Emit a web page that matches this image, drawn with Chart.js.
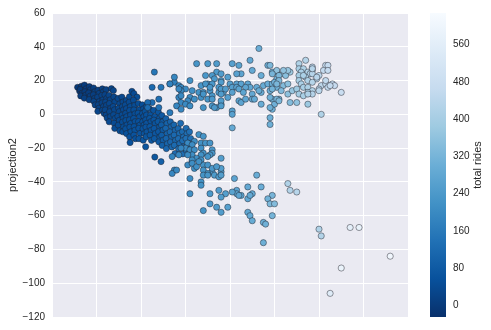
<!DOCTYPE html>
<html>
<head>
<meta charset="utf-8">
<title>projection scatter</title>
<script src="https://cdn.jsdelivr.net/npm/chart.js@4"></script>
<style>
  html, body { margin: 0; padding: 0; background: #ffffff; }
</style>
</head>
<body>
<canvas id="scatterChart" width="491" height="330"></canvas>
<script>
// [projection1, projection2, total rides]
const mainCluster = [
  [-68.5,16,2],[-67.6,13.8,5],
  [-66.8,16.6,4],[-67.3,14.8,2],[-66.4,12.6,6],[-67.1,10.9,9],
  [-65.4,17.3,5],[-64.6,15.2,7],[-65.2,13.4,3],[-64.8,11.4,10],[-65.5,9.6,12],
  [-63.2,16.4,6],[-62.7,14.6,11],[-63.5,12.7,8],[-62.8,10.8,13],[-63.3,8.7,16],
  [-61.3,15.6,12],[-60.7,13.4,14],[-61.4,11.6,11],[-60.8,9.5,17],[-61.2,7.7,19],[-60.6,5.6,22],
  [-59.3,14.3,15],[-58.8,12.4,18],[-59.5,10.2,16],[-58.7,7.6,20],[-59.2,5.7,23],[-58.9,3.6,25],[-59.4,1.8,28],
  [-57.4,15.1,17],[-56.9,13.4,19],[-57.6,11.2,22],[-57.1,8.6,24],[-57.5,6.8,21],[-56.8,4.7,26],[-57.3,2.4,29],[-56.6,0.6,31],
  [-55.7,14.6,20],[-56.2,11.6,23],[-55.4,9.4,25],[-55.9,7.3,28],[-55.5,5.4,24],[-56.1,2.6,30],[-55.6,-0.4,32],[-55.2,-2.2,35],
  [-54.4,11.3,26],[-53.8,8.6,29],[-54.2,6.4,31],[-53.6,3.7,28],[-54.1,1.5,34],[-53.7,-1.3,36],[-54.3,-4.4,38],
  [-53.3,15.2,29],[-52.4,14.1,30],
  [-52.2,10.3,30],[-51.7,7.4,32],[-52.5,4.6,35],[-51.9,2.7,31],[-52.3,-0.3,37],[-51.6,-2.4,40],[-52.1,-5.2,42],[-51.8,-8.3,44],
  [-50.3,9.4,32],[-49.6,6.2,35],[-50.1,3.6,37],[-49.8,1.6,34],[-50.4,-1.2,40],[-49.7,-3.5,42],[-50.2,-6.4,44],[-49.5,-9.7,48],
  [-48.6,10.2,35],[-48.1,7.3,37],[-48.4,4.5,40],[-47.9,2.7,36],[-48.5,-0.4,42],[-48.0,-2.3,44],[-48.3,-4.6,47],[-47.8,-7.4,49],[-48.2,-10.3,53],
  [-46.6,8.3,38],[-47.0,5.6,41],[-46.5,3.4,43],[-46.9,0.6,40],[-46.4,-1.4,46],[-46.8,-3.7,48],[-46.3,-6.3,50],[-46.9,-8.6,53],[-46.5,-11.4,56],
  [-45.2,10.4,44],[-44.1,13.6,42],[-43.2,12.3,43],[-41.8,10.2,48],
  [-45.3,7.2,42],[-44.8,4.6,44],[-45.1,2.3,47],[-44.7,-0.4,43],[-45.2,-3.3,49],[-44.6,-5.4,52],[-45.0,-7.6,54],[-44.5,-10.3,58],[-45.1,-13.4,60],[-44.9,-16.7,59],
  [-43.4,8.4,43],[-42.8,5.3,47],[-43.2,2.6,49],[-42.7,0.3,46],[-43.3,-2.4,52],[-42.6,-4.3,54],[-43.1,-7.3,56],[-42.7,-9.4,59],[-43.2,-12.3,62],[-42.5,-14.4,55],
  [-41.2,6.4,48],[-40.7,2.6,50],[-41.3,0.7,53],[-40.6,-1.4,49],[-41.1,-4.3,55],[-40.5,-6.4,58],[-41.0,-8.3,60],[-40.4,-11.3,62],[-40.9,-14.4,66],
  [-39.4,5.6,52],[-38.8,3.3,54],[-39.3,0.6,56],[-38.7,-1.3,53],[-39.2,-4.4,59],[-38.6,-6.3,61],[-39.1,-8.5,64],[-38.5,-11.4,66],[-39.0,-15.3,70],
  [-37.6,4.6,55],[-38.1,1.7,58],[-37.5,-0.4,60],[-37.9,-3.3,56],[-37.4,-5.3,62],[-37.8,-7.6,65],[-37.3,-10.4,67],[-37.7,-13.3,71],[-37.9,-19.2,67],
  [-36.2,3.3,59],[-35.6,-0.3,61],[-36.1,-2.4,64],[-35.5,-4.3,60],[-36.0,-7.3,66],[-35.4,-9.4,68],[-35.9,-12.3,71],[-35.3,-15.4,74],
  [-34.3,2.4,62],[-33.7,-1.3,65],[-34.2,-3.4,67],[-33.6,-5.3,64],[-34.1,-8.4,70],[-33.5,-11.3,72],[-34.0,-14.4,76],[-33.8,-25.3,71],
  [-32.2,1.3,66],[-31.7,-2.4,68],[-32.3,-4.3,71],[-31.6,-7.4,67],[-32.1,-10.3,73],[-31.5,-13.4,76],[-32.0,-16.3,79],
  [-30.6,-0.7,78],[-30.2,-4.4,82],[-30.8,-6.3,84],[-30.1,-9.3,80],[-30.7,-12.4,86],[-30.0,-15.3,90],[-30.5,-18.4,94],[-31.0,-28.0,96],
  [-28.8,-2.6,98],[-28.3,-5.4,102],[-28.9,-8.3,104],[-28.2,-11.4,100],[-28.7,-14.3,106],[-28.1,-17.4,110],[-28.6,-20.3,114],
  [-26.8,-4.4,104],[-26.3,-7.3,108],[-26.9,-10.4,112],[-26.2,-13.3,106],[-26.7,-16.4,114],[-26.1,-19.3,118],
  [-25.2,-6.3,110],[-24.6,-9.4,114],[-25.1,-12.3,118],[-24.5,-15.4,112],[-25.0,-18.3,122],[-24.7,-23.2,124],
  [-23.3,-8.4,116],[-22.7,-11.3,120],[-23.2,-14.4,124],[-22.6,-17.3,118],[-23.1,-20.4,128],
  [-22.2,-5.3,124],
  [-21.4,-10.3,122],[-20.9,-13.4,126],[-21.3,-15.6,130],[-20.8,-19.3,134],[-21.2,-23.4,134],
  [-19.7,-8.3,128],[-19.3,-11.4,132],[-19.8,-14.3,136],[-19.2,-18.4,140],[-19.7,-21.3,144],
  [-18.9,-20.2,140],
  [-18.2,-10.4,134],[-17.7,-14.3,138],[-18.1,-17.4,144],[-17.6,-21.3,148],
  [-17.1,-28.3,150]
];

const upperBranch = [
  [-35,16,120],[-31,16,150],[-27,18,170],[-25,19,175],[-34,25,150],
  [-15,30,230],[-10,30,240],[-6,30,245],[-6,25,245],[-11,23,235],[-8,23,240],[-4,24,250],
  [-18,20,220],[-13,17,230],[-10,18,235],[-7,21,240],[-4,20,248],[-8,18,238],[-4,19,250],
  [-25,22,190],[-27,18,180],[-23,17,195],[-22,16,200],[-20,15,205],[-22,14,200],[-23,15,195],
  [-17,14,215],[-14,13,222],[-12,13,228],[-9,14,235],[-5,13,245],[-3,13,252],[-5,16,245],[-4,15,250],
  [-23,10,190],[-22,11,195],[-18,10,205],[-16,9,212],[-13,10,218],[-10,9,228],[-19,8,200],
  [-22,7,195],[-20,6,200],[-24,5,190],[-22,3,195],[-18,5,205],[-12,4,222],[-8,5,232],[-6,4,238],[-4,6,245],
  [-32,9,130],[-35,7,125],[-37,7,120],[-37,4,122],[-32,4,135],[-27,1,160],
  [13,39,300],[1,30,262],[4,29,268],[9,32,285],[17,29,300],[21,25,310],[5,24,270],[3,24,265],
  [10,26,285],[14,23,295],[19,25,305],[-1,22,255],[21,21,310],
  [-11,18,232],[0,18,258],[3,18,265],[5,18,270],[8,18,278],[9,16,282],[12,16,290],[15,17,295],
  [17,18,300],[19,18,305],[20,19,308],
  [-9,16,235],[-2,15,252],[1,16,262],[3,16,265],[4,15,268],[7,16,275],[1,13,262],[6,13,272],
  [10,12,285],[14,13,295],[18,14,302],[21,16,310],
  [-12,12,225],[-8,11,235],[-4,12,248],[-1,10,255],[-4,8,248],[-8,9,238],[4,8,268],[5,7,270],
  [7,9,275],[10,9,285],[14,6,295],[19,9,305],
  [-7,4,238],[-4,5,245],[1,2,262],[1,0,262],[19,3,305],[20,6,308],
  [11,9,288],[18,4,305],[18,-2,305],[18,-6,305],[13,14,292],
  [22,9,320],[27,7,340],[30,7,360],[35,6,380],[41,0,420]
];

const upperRight = [
  [34,32,430],[31,30,420],[37,28,440],[43,29,460],[44,29,465],[42,26,460],[44,26,465],
  [21,26,360],[26,25,380],[24,24,375],[27,25,385],[31,27,405],[33,27,415],[32,25,410],[35,25,420],
  [37,26,430],[36,24,425],[37,24,432],
  [18,29,330],[19,24,320],[22,23,330],[25,23,350],[31,23,400],[34,22,415],[40,23,445],[39,21,440],
  [35,20,420],[31,20,405],[37,19,430],[32,18,410],[41,17,450],[43,18,455],[46,18,462],[47,17,465],
  [50,13,475],[44,16,458],[40,15,445],
  [22,20,330],[21,18,325],[24,17,340],[26,18,355],[19,15,315],[23,14,335],[26,12,355],[28,14,370],
  [30,15,385],[33,16,405],[35,16,415],[37,14,425],[35,13,415],[31,12,395],[37,12,428],[40,14,440],
  [33,11,405],[35,12,418],
  [21,9,320],[22,8,325],[18,10,305],
  [37,27,435],[26,26,370],[24,26,360],[33,23,410],[39,22,440],[43,20,455],[45,17,460]
];

const lowerBranch = [
  [1,-8,290],[-14,-12,220],[-12,-13,225],[-16,-16,210],[-13,-17,220],[-11,-17,225],[-9,-17,230],
  [-19,-17,200],[-17,-18,205],[-20,-20,195],[-18,-21,205],[-16,-21,210],[-13,-20,218],[-12,-23,222],
  [-8,-21,235],[-8,-23,235],[-9,-24,232],[-10,-25,228],[-13,-24,220],[-17,-24,210],[-19,-24,205],
  [-23,-24,195],[-22,-20,190],[-26,-25,185],[-15,-26,215],[-13,-27,220],[-17,-27,210],[-19,-30,205],
  [-16,-32,215],[-12,-30,225],[-4,-26,255],[-10,-30,230],[-12,-33,225],[-8,-34,240],[-10,-35,232],
  [-7,-36,242],[-4,-34,250],[-4,-32,252],[-5,-37,248],[-25,-33,195],[-26,-35,190],[-18,-38,210],
  [-13,-40,225],[-13,-42,222],[2,-38,270],[-5,-45,250],[-9,-47,240],[-18,-47,215],[-2,-47,258],
  [3,-45,272],[3,-47,272],[5,-48,278],[8,-43,285],
  [-24,-33,195],[-17,-29,210],[-15,-31,215],[-14,-28,218],[-8,-32,235],[-6,-31,240],[-4,-36,252],
  [-12,-36,225],[-10,-36,232],
  [-12,-57,230],[-9,-53,238],[-6,-55,245],[-4,-58,252],[-1,-55,260],[8,-50,285],[8,-58,282],
  [12,-36,295],[14,-43,300],[1,-46,268],[4,-48,275],[10,-47,290],[9,-48,288],[-4,-49,252],
  [19,-48,320],[17,-50,312],[18,-53,330],[20,-53,340],[9,-60,290],[10,-63,292],[15,-64,305],
  [16,-65,308],[19,-60,318],[15,-76,305],
  [26,-41,420],[27,-45,425],[30,-46,435],[40,-68,420],[41,-72,425]
];

const farPoints = [
  [54,-67,565],[58,-67,580],[50,-91,585],[45,-106,545],[72,-84,605]
];

const yTicks = [-120, -100, -80, -60, -40, -20, 0, 20, 40, 60];
const colorbarTicks = [0, 80, 160, 240, 320, 400, 480, 560];
const ridesMin = -25;
const ridesMax = 628;

// matplotlib Blues_r
const bluesR = ["#08306b", "#08519c", "#2171b5", "#4292c6", "#6baed6", "#9ecae1", "#c6dbef", "#deebf7", "#f7fbff"];

function hexToRgb(h) {
  return [parseInt(h.slice(1, 3), 16), parseInt(h.slice(3, 5), 16), parseInt(h.slice(5, 7), 16)];
}

function ridesColor(v) {
  let t = (v - ridesMin) / (ridesMax - ridesMin);
  t = Math.min(1, Math.max(0, t));
  const pos = t * (bluesR.length - 1);
  const i = Math.min(Math.floor(pos), bluesR.length - 2);
  const f = pos - i;
  const a = hexToRgb(bluesR[i]);
  const b = hexToRgb(bluesR[i + 1]);
  const c = a.map((ch, k) => Math.round(ch + (b[k] - ch) * f));
  return `rgb(${c[0]}, ${c[1]}, ${c[2]})`;
}

const allPoints = [...mainCluster, ...lowerBranch, ...upperBranch, ...upperRight, ...farPoints];

const textColor = "#262626";
const fontFamily = '"Liberation Sans", Arial, sans-serif';
Chart.defaults.font.family = fontFamily;

// grey plot background (seaborn darkgrid)
const backdrop = {
  id: "backdrop",
  beforeDraw(chart) {
    const { ctx, chartArea: a } = chart;
    ctx.save();
    ctx.fillStyle = "#EAEAF2";
    ctx.fillRect(a.left, a.top, a.right - a.left, a.bottom - a.top);
    ctx.restore();
  },
};

// colour bar drawn next to its own scale
const colorbar = {
  id: "colorbar",
  afterDraw(chart) {
    const s = chart.scales.cb;
    const ctx = chart.ctx;
    const top = s.getPixelForValue(ridesMax);
    const bottom = s.getPixelForValue(ridesMin);
    const grad = ctx.createLinearGradient(0, bottom, 0, top);
    bluesR.forEach((c, i) => grad.addColorStop(i / (bluesR.length - 1), c));
    ctx.save();
    ctx.fillStyle = grad;
    ctx.fillRect(s.left + 22, top, 16, bottom - top);
    ctx.translate(s.left + 70, (top + bottom) / 2);
    ctx.rotate(-Math.PI / 2);
    ctx.font = "11px " + fontFamily;
    ctx.fillStyle = textColor;
    ctx.textAlign = "center";
    ctx.textBaseline = "middle";
    ctx.fillText("total rides", 0, 0);
    ctx.restore();
  },
};

const minus = (v) => String(v).replace("-", "\u2212");

new Chart(document.getElementById("scatterChart"), {
  type: "scatter",
  data: {
    datasets: [
      {
        label: "stations",
        data: allPoints.map((p) => ({ x: p[0], y: p[1] })),
        backgroundColor: allPoints.map((p) => ridesColor(p[2])),
        borderColor: "rgba(30, 30, 40, 0.65)",
        borderWidth: 0.7,
        pointRadius: 3.1,
      },
    ],
  },
  options: {
    responsive: false,
    animation: false,
    layout: { padding: { top: 12, bottom: 12, left: 0, right: 0 } },
    plugins: {
      legend: { display: false },
      tooltip: { enabled: false },
    },
    scales: {
      x: {
        type: "linear",
        min: -80,
        max: 80,
        border: { display: false },
        grid: { color: "#ffffff", lineWidth: 1, drawTicks: false },
        ticks: { display: false, stepSize: 20 },
      },
      y: {
        type: "linear",
        position: "left",
        min: -120,
        max: 60,
        border: { display: false },
        grid: { color: "#ffffff", lineWidth: 1, drawTicks: false },
        afterBuildTicks: (s) => { s.ticks = yTicks.map((v) => ({ value: v })); },
        afterFit: (s) => { s.width = 52; },
        ticks: {
          color: textColor,
          font: { size: 10 },
          padding: 7,
          callback: minus,
        },
        title: {
          display: true,
          text: "projection2",
          color: textColor,
          font: { size: 11 },
          padding: { top: 6, bottom: 0 },
        },
      },
      cb: {
        type: "linear",
        axis: "y",
        position: "right",
        min: ridesMin,
        max: ridesMax,
        border: { display: false },
        grid: { display: false, drawTicks: true, tickLength: 40 },
        afterBuildTicks: (s) => { s.ticks = colorbarTicks.map((v) => ({ value: v })); },
        afterFit: (s) => { s.width = 83; },
        ticks: {
          color: textColor,
          font: { size: 10 },
          padding: 5,
        },
      },
    },
  },
  plugins: [backdrop, colorbar],
});
</script>
</body>
</html>
